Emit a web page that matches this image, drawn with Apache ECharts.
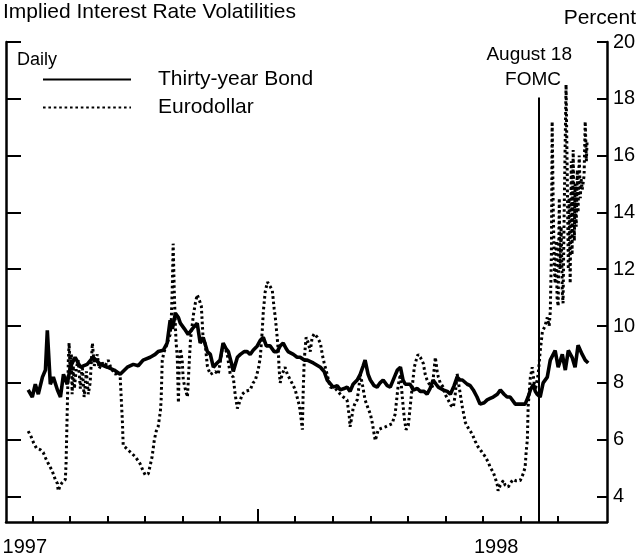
<!DOCTYPE html>
<html>
<head>
<meta charset="utf-8">
<title>Implied Interest Rate Volatilities</title>
<script src="https://cdn.jsdelivr.net/npm/echarts@6/dist/echarts.min.js"></script>
<style>
  html, body { margin: 0; padding: 0; background: #fff; }
  #chart { width: 642px; height: 556px; }
</style>
</head>
<body>
<div id="chart"></div>
<script>
// x values are months since January 1997 (0 = Jan 1997, 12 = Jan 1998)
const monthTicks = [0, 1, 2, 3, 4, 5, 6, 7, 8, 9, 10, 11, 12, 13, 14]
const yearLabelAt = [-0.2, 12.35]
const yearLabels = ['1997', '1998']
const percentTicks = [4, 6, 8, 10, 12, 14, 16, 18, 20]
const fomcMonth = 13.49
const fomcTop = 18.05

const bondMonths = [
  -0.11, 0.0, 0.08, 0.16, 0.27, 0.35, 0.4, 0.48, 0.56, 0.67, 0.75, 0.83, 0.93,
  1.01, 1.14, 1.28, 1.46, 1.62, 1.81, 2.0, 2.18, 2.34, 2.53, 2.69, 2.82, 2.95,
  3.14, 3.27, 3.35, 3.49, 3.59, 3.67, 3.73, 3.81, 3.89, 3.94, 4.05, 4.15, 4.26,
  4.39, 4.47, 4.55, 4.66, 4.74, 4.82, 4.92, 5.0, 5.08, 5.16, 5.22, 5.3, 5.35,
  5.46, 5.54, 5.64, 5.72, 5.8, 5.88, 5.99, 6.07, 6.15, 6.23, 6.33, 6.44, 6.52,
  6.6, 6.68, 6.76, 6.81, 6.95, 7.05, 7.13, 7.24, 7.32, 7.48, 7.67, 7.77, 7.85,
  8.01, 8.12, 8.2, 8.3, 8.38, 8.46, 8.54, 8.65, 8.73, 8.81, 8.86, 8.94, 9.0,
  9.1, 9.18, 9.26, 9.34, 9.45, 9.53, 9.64, 9.72, 9.8, 9.87, 9.93, 10.06, 10.14,
  10.25, 10.33, 10.43, 10.51, 10.59, 10.67, 10.75, 10.81, 10.94, 11.05, 11.13,
  11.23, 11.31, 11.39, 11.45, 11.58, 11.66, 11.74, 11.84, 11.92, 12.03, 12.11,
  12.19, 12.27, 12.38, 12.46, 12.56, 12.64, 12.72, 12.86, 12.99, 13.12, 13.2,
  13.26, 13.34, 13.39, 13.44, 13.52, 13.6, 13.71, 13.79, 13.92, 14.0, 14.11,
  14.19, 14.27, 14.37, 14.45, 14.53, 14.64, 14.72, 14.8
]
const bondValues = [
  7.75, 7.5, 7.95, 7.6, 8.2, 8.45, 9.85, 7.95, 8.2, 7.75, 7.5, 8.3, 7.95,
  8.55, 8.9, 8.55, 8.65, 8.9, 8.65, 8.55, 8.45, 8.3, 8.55, 8.65, 8.6, 8.8,
  8.9, 9.0, 9.1, 9.15, 9.4, 10.2, 9.9, 10.45, 10.3, 10.1, 9.9, 9.7, 9.9,
  10.1, 9.4, 9.6, 9.1, 9.0, 8.55, 8.7, 8.8, 9.4, 9.2, 9.1, 8.7, 8.4,
  8.9, 9.0, 9.1, 9.1, 9.0, 9.15, 9.3, 9.5, 9.6, 9.3, 9.3, 9.1, 9.1,
  9.3, 9.4, 9.2, 9.1, 9.0, 8.9, 8.9, 8.8, 8.8, 8.7, 8.55, 8.4, 8.1,
  7.85, 7.9, 7.75, 7.8, 7.85, 7.7, 7.95, 8.1, 8.3, 8.6, 8.8, 8.3, 8.1,
  7.9, 7.85, 8.0, 8.1, 7.9, 7.85, 8.2, 8.45, 8.55, 8.1, 7.95, 7.95, 7.75,
  7.8, 7.7, 7.7, 7.6, 7.8, 8.1, 7.95, 7.85, 7.75, 7.7, 7.6,
  7.9, 8.2, 8.1, 8.1, 7.95, 7.9, 7.75, 7.5, 7.25, 7.3, 7.4,
  7.45, 7.5, 7.6, 7.75, 7.6, 7.5, 7.5, 7.25, 7.25, 7.25, 7.5,
  7.75, 7.95, 7.7, 7.6, 7.5, 8.0, 8.2, 8.8, 9.14, 8.55, 9.0,
  8.45, 9.14, 8.9, 8.55, 9.32, 9.0, 8.8, 8.7
]

const euroMonths = [
  -0.11, -0.03, 0.03, 0.11, 0.21, 0.29, 0.37, 0.45, 0.53, 0.61, 0.67, 0.69,
  0.75, 0.8, 0.88, 0.9, 0.93, 0.96, 0.98, 1.01, 1.04, 1.06, 1.09, 1.12, 1.17,
  1.22, 1.28, 1.33, 1.38, 1.44, 1.49, 1.54, 1.6, 1.65, 1.73, 1.78, 1.86, 1.94,
  2.02, 2.1, 2.21, 2.29, 2.34, 2.37, 2.4, 2.42, 2.5, 2.58, 2.66, 2.74, 2.82,
  2.87, 2.95, 3.01, 3.09, 3.14, 3.19, 3.25, 3.3, 3.35, 3.41, 3.43, 3.46, 3.51,
  3.57, 3.62, 3.67, 3.7, 3.73, 3.75, 3.78, 3.81, 3.83, 3.86, 3.89, 3.91, 3.94,
  3.99, 4.02, 4.07, 4.13, 4.15, 4.21, 4.29, 4.34, 4.39, 4.45, 4.5, 4.55, 4.6,
  4.66, 4.68, 4.74, 4.79, 4.87, 4.95, 5.0, 5.08, 5.14, 5.19, 5.27, 5.35, 5.4,
  5.46, 5.54, 5.59, 5.67, 5.8, 5.88, 5.94, 6.02, 6.07, 6.12, 6.15, 6.2, 6.26,
  6.33, 6.39, 6.44, 6.47, 6.52, 6.55, 6.57, 6.6, 6.65, 6.73, 6.79, 6.87, 6.95,
  7.0, 7.05, 7.11, 7.16, 7.19, 7.21, 7.24, 7.27, 7.29, 7.35, 7.4, 7.45, 7.51,
  7.59, 7.67, 7.72, 7.77, 7.85, 7.93, 8.07, 8.2, 8.28, 8.38, 8.44, 8.46, 8.52,
  8.54, 8.6, 8.65, 8.7, 8.73, 8.78, 8.86, 8.94, 9.0, 9.05, 9.1, 9.13, 9.18,
  9.21, 9.29, 9.4, 9.48, 9.58, 9.66, 9.74, 9.8, 9.85, 9.9, 9.95, 10.01, 10.06,
  10.11, 10.17, 10.22, 10.27, 10.33, 10.41, 10.46, 10.51, 10.59, 10.65, 10.7,
  10.73, 10.78, 10.81, 10.86, 10.94, 10.99, 11.07, 11.15, 11.21, 11.26, 11.31,
  11.37, 11.45, 11.53, 11.61, 11.71, 11.79, 11.87, 11.95, 12.06, 12.14, 12.19,
  12.27, 12.32, 12.38, 12.4, 12.46, 12.54, 12.59, 12.67, 12.72, 12.8, 12.88,
  12.99, 13.07, 13.12, 13.15, 13.18, 13.2, 13.26, 13.31, 13.36, 13.39, 13.44,
  13.47, 13.52, 13.58, 13.65, 13.71, 13.76, 13.79, 13.82, 13.84, 13.87, 13.9,
  13.92, 13.95, 13.97, 14.0, 14.03, 14.05, 14.08, 14.11, 14.13, 14.16, 14.21,
  14.24, 14.27, 14.29, 14.32, 14.35, 14.37, 14.4, 14.43, 14.45, 14.48, 14.51,
  14.53, 14.56, 14.59, 14.61, 14.64, 14.69, 14.72, 14.75, 14.77
]
const euroValues = [
  6.3, 6.1, 5.9, 5.7, 5.65, 5.55, 5.3, 5.1, 4.9, 4.6, 4.45, 4.2,
  4.4, 4.5, 4.6, 5.2, 7.0, 8.8, 9.4, 8.3, 9.0, 7.6, 8.6, 7.8, 8.5,
  8.8, 7.8, 8.6, 7.5, 8.4, 7.6, 8.0, 9.4, 8.6, 9.0, 8.5, 8.7, 8.6,
  8.8, 8.5, 8.3, 8.4, 8.2, 7.4, 6.6, 5.8, 5.7, 5.6, 5.5, 5.4, 5.25,
  5.15, 4.9, 4.75, 4.8, 4.85, 5.4, 6.0, 6.3, 6.45, 7.0, 7.4, 8.8, 9.1,
  9.3, 9.5, 9.7, 10.2, 11.5, 12.9, 11.2, 9.96, 9.4, 8.9, 7.3, 8.5, 9.2,
  8.8, 8.1, 7.8, 7.5, 8.0, 9.5, 10.4, 10.8, 11.1, 10.9, 10.7, 9.5, 9.4,
  8.6, 8.5, 8.3, 8.3, 8.4, 8.3, 8.7, 9.4, 9.2, 9.0, 8.3, 8.2, 7.6,
  7.1, 7.4, 7.6, 7.7, 7.75, 8.0, 8.1, 8.5, 8.9, 9.8, 10.5, 11.2, 11.55,
  11.4, 11.25, 10.6, 10.3, 9.6, 9.1, 8.5, 8.0, 8.3, 8.55, 8.3, 8.1, 7.9,
  7.75, 7.5, 7.2, 6.7, 6.35, 7.6, 8.8, 9.3, 9.6, 9.4, 9.1, 9.6, 9.73,
  9.6, 9.4, 9.0, 8.7, 8.3, 7.85, 7.8, 7.6, 7.5, 7.4, 6.8, 6.45, 6.9,
  7.1, 7.3, 7.4, 7.9, 8.3, 8.0, 7.4, 7.1, 6.9, 6.6, 6.2, 5.97, 6.2,
  6.35, 6.4, 6.45, 6.5, 6.56, 6.9, 7.9, 8.3, 7.5, 6.8, 6.35, 6.5, 6.45,
  7.8, 8.55, 8.8, 9.0, 8.9, 8.68, 8.3, 8.1, 7.9, 7.85, 8.5,
  8.9, 8.4, 8.2, 8.0, 7.85, 7.6, 7.4, 7.2, 7.14, 7.6, 8.32,
  7.8, 7.14, 6.6, 6.4, 6.2, 5.95, 5.74, 5.6, 5.4, 5.2, 5.03,
  4.85, 4.68, 4.4, 4.2, 4.4, 4.56, 4.4, 4.33, 4.45, 4.6, 4.55,
  4.56, 4.8, 5.03, 5.6, 6.0, 7.14, 8.2, 8.55, 8.0, 7.74, 8.1,
  8.32, 9.1, 9.8, 10.0, 10.3, 10.0, 10.5, 12.5, 17.2, 14.0, 12.0,
  11.5, 13.0, 11.0, 10.7, 14.5, 12.0, 13.5, 11.2, 10.8, 14.0, 18.5,
  15.5, 12.0, 14.5, 11.5, 15.8, 12.5, 16.2, 13.0, 15.0, 13.5, 15.5,
  14.0, 16.0, 14.5, 15.2, 14.8, 15.3, 17.2, 15.8, 16.5
]

const zip = (xs, ys) => xs.map((x, i) => [x, ys[i]])

const font = '"Liberation Sans", Arial, Helvetica, sans-serif'
const ink = '#000'

const chart = echarts.init(document.getElementById('chart'))

chart.setOption({
  animation: false,
  backgroundColor: '#fff',
  textStyle: { fontFamily: font, color: ink },
  title: {
    text: 'Implied Interest Rate Volatilities',
    left: 3,
    top: 2,
    padding: 0,
    textStyle: { fontFamily: font, fontSize: 21, fontWeight: 'normal', color: ink },
  },
  legend: {
    data: ['Thirty-year Bond', 'Eurodollar'],
    orient: 'vertical',
    left: 42,
    top: 69,
    padding: 0,
    itemWidth: 88,
    itemHeight: 14,
    itemGap: 7,
    itemStyle: { opacity: 0 },
    textStyle: { fontFamily: font, fontSize: 21, color: ink, padding: [0, 0, 0, 22] },
  },
  graphic: [
    {
      type: 'text',
      right: 6,
      top: 8,
      style: { text: 'Percent', font: '21px ' + font, fill: ink },
    },
    {
      type: 'text',
      left: 17,
      top: 51,
      style: { text: 'Daily', font: '18px ' + font, fill: ink },
    },
    {
      type: 'text',
      right: 642 - 572,
      top: 45,
      style: { text: 'August 18', font: '19px ' + font, fill: ink, align: 'right' },
    },
    {
      type: 'text',
      right: 642 - 561,
      top: 70,
      style: { text: 'FOMC', font: '19px ' + font, fill: ink, align: 'right' },
    },
  ],
  grid: { left: 6, right: 35, top: 42, bottom: 34, outerBoundsMode: 'none' },
  xAxis: [
    {
      type: 'value',
      min: -0.7,
      max: 15.3,
      position: 'bottom',
      axisLine: { onZero: false, lineStyle: { color: ink, width: 2.5 } },
      axisTick: { customValues: monthTicks, inside: true, length: 6, lineStyle: { color: ink, width: 2 } },
      axisLabel: {
        customValues: yearLabelAt,
        formatter: (v) => yearLabels[yearLabelAt.indexOf(v)] || '',
        fontSize: 20,
        color: ink,
        margin: 15,
      },
      splitLine: { show: false },
    },
    {
      // taller mid-year tick
      type: 'value',
      min: -0.7,
      max: 15.3,
      position: 'bottom',
      axisLine: { show: false, onZero: false },
      axisTick: { customValues: [6], inside: true, length: 13, lineStyle: { color: ink, width: 2 } },
      axisLabel: { show: false },
      splitLine: { show: false },
    },
  ],
  yAxis: [
    {
      type: 'value',
      position: 'right',
      min: 3.1,
      max: 20,
      axisLine: { show: true, onZero: false, lineStyle: { color: ink, width: 2.5 } },
      axisTick: { show: true, customValues: percentTicks, inside: true, length: 10, lineStyle: { color: ink, width: 2 } },
      axisLabel: { customValues: percentTicks, fontSize: 20, color: ink, margin: 6 },
      splitLine: { show: false },
    },
    {
      type: 'value',
      position: 'left',
      min: 3.1,
      max: 20,
      axisLine: { show: true, onZero: false, lineStyle: { color: ink, width: 2.5 } },
      axisTick: { show: true, customValues: percentTicks, inside: true, length: 15, lineStyle: { color: ink, width: 2 } },
      axisLabel: { show: false },
      splitLine: { show: false },
    },
  ],
  series: [
    {
      name: 'Thirty-year Bond',
      type: 'line',
      data: zip(bondMonths, bondValues),
      symbol: 'none',
      lineStyle: { color: ink, width: 3.6 },
      itemStyle: { color: ink },
      markLine: {
        silent: true,
        symbol: 'none',
        label: { show: false },
        lineStyle: { color: ink, width: 2, type: 'solid' },
        data: [[{ coord: [fomcMonth, fomcTop] }, { coord: [fomcMonth, 3.1] }]],
      },
    },
    {
      name: 'Eurodollar',
      type: 'line',
      data: zip(euroMonths, euroValues),
      symbol: 'none',
      lineStyle: { color: ink, width: 3, type: [2.6, 2.8] },
      itemStyle: { color: ink },
    },
  ],
})
</script>
</body>
</html>
